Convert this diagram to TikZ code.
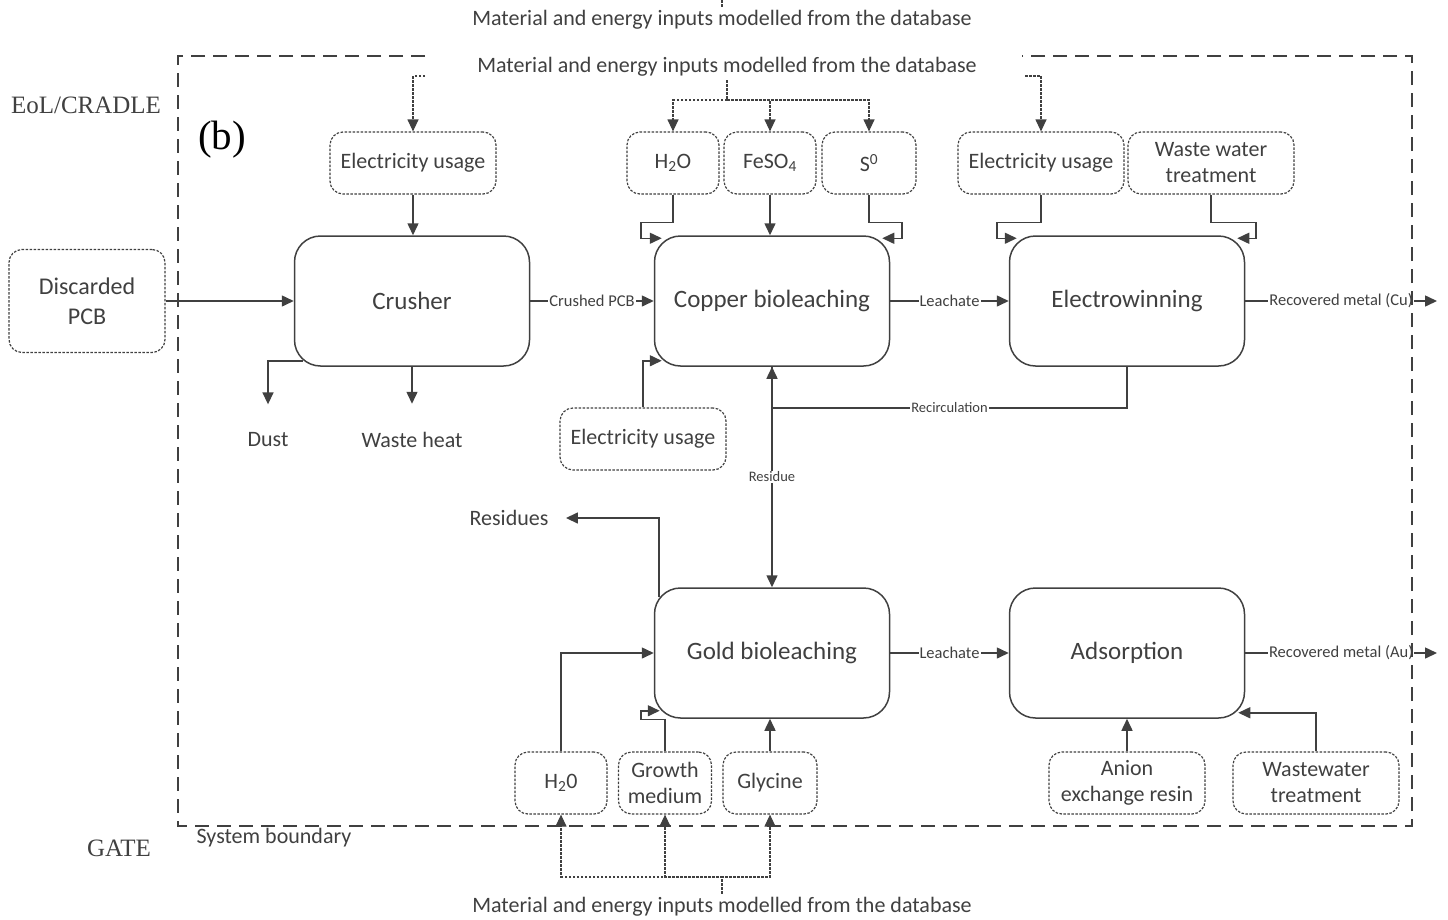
\documentclass[tikz,border=0pt]{standalone}
\usepackage{fontspec}
\setmainfont{Carlito}
\newfontfamily\serif{Liberation Serif}
\usetikzlibrary{arrows.meta}
\definecolor{ink}{HTML}{404040}

\begin{document}
\begin{tikzpicture}[x=1pt, y=-1pt, >={Triangle[length=12pt,width=11pt]},
    every node/.style={text=ink},
    proc/.style={draw=ink, line width=1.5pt, rounded corners=26pt, minimum width=235pt, minimum height=130pt, font=\fontsize{25}{30}\selectfont},
    inbox/.style={draw=ink, line width=1.2pt, dash pattern=on 2.5pt off 1.5pt, rounded corners=13pt, minimum height=62pt, align=center, font=\fontsize{22}{26}\selectfont},
    flow/.style={draw=ink, line width=1.5pt},
    feed/.style={draw=ink, line width=1.2pt, dash pattern=on 2.5pt off 1.5pt},
    lbl/.style={fill=white, inner sep=1pt, font=\fontsize{16.5}{18}\selectfont},
    slbl/.style={fill=white, inner sep=1pt, font=\fontsize{14.5}{16}\selectfont},
    txt/.style={font=\fontsize{22}{26}\selectfont},
    dbtxt/.style={font=\fontsize{22}{26}\selectfont}]
    \useasboundingbox (0,0) rectangle (1448,919);

    % Side labels
    \node[font=\serif\fontsize{25}{30}\selectfont] (cradle) at (86,105) {EoL/CRADLE};
    \node[font=\serif\fontsize{25}{30}\selectfont] (gate) at (119,848) {GATE};
    \node[font=\serif\fontsize{41}{48}\selectfont, text=black] (fig) at (222,140) {(b)};
    \node[txt] (sysb) at (274,838) {System boundary};

    % Processes
    \node[proc] (crusher) at (412,301) {Crusher};
    \node[proc] (cu) at (772,301) {Copper bioleaching};
    \node[proc] (ew) at (1127,301) {Electrowinning};
    \node[proc] (au) at (772,653) {Gold bioleaching};
    \node[proc] (ads) at (1127,653) {Adsorption};

    % Inputs
    \node[inbox, minimum width=156pt, minimum height=103pt, font=\fontsize{24}{30}\selectfont] (pcb) at (87,301) {Discarded\\PCB};
    \node[inbox, minimum width=166pt] (elecA) at (413,163) {Electricity usage};
    \node[inbox, minimum width=92pt] (h2oA) at (673,163) {H\textsubscript{2}O};
    \node[inbox, minimum width=92pt] (feso) at (770,163) {FeSO\textsubscript{4}};
    \node[inbox, minimum width=94pt] (sulf) at (869,163) {S\textsuperscript{0}};
    \node[inbox, minimum width=166pt] (elecB) at (1041,163) {Electricity usage};
    \node[inbox, minimum width=166pt] (wwtA) at (1211,163) {Waste water\\treatment};
    \node[inbox, minimum width=166pt] (elecC) at (643,439) {Electricity usage};
    \node[inbox, minimum width=92pt] (h2oB) at (561,783) {H\textsubscript{2}0};
    \node[inbox, minimum width=93pt] (growth) at (665,783) {Growth\\medium};
    \node[inbox, minimum width=94pt] (gly) at (770,783) {Glycine};
    \node[inbox, minimum width=156pt] (resin) at (1127,783) {Anion\\exchange resin};
    \node[inbox, minimum width=166pt] (wwtB) at (1316,783) {Wastewater\\treatment};

    % Outputs and database texts
    \node[txt] (dust) at (268,440) {Dust};
    \node[txt] (wheat) at (412,440) {Waste heat};
    \node[txt] (resid) at (509,518) {Residues};
    \node[dbtxt] (dbtop) at (722,20) {Material and energy inputs modelled from the database};
    \node[dbtxt] (dbmid) at (727,67) {Material and energy inputs modelled from the database};
    \node[dbtxt] (dbbot) at (722,907) {Material and energy inputs modelled from the database};
    \coordinate (cuOut) at (1437,301);
    \coordinate (auOut) at (1437,653);
    \coordinate (inA) at (425,76);
    \coordinate (inB) at (1025,76);

    % Main line
    \draw[flow, ->] (pcb) -- (crusher);
    \draw[flow, ->] (crusher) -- node[lbl] {Crushed PCB} (cu);
    \draw[flow, ->] (cu) -- node[lbl] {Leachate} (ew);
    \draw[flow, ->] (ew) -- node[lbl] {Recovered metal (Cu)} (cuOut);
    \draw[flow, ->] (au) -- node[lbl] {Leachate} (ads);
    \draw[flow, ->] (ads) -- node[lbl] {Recovered metal (Au)} (auOut);

    % Crusher
    \draw[flow, ->] (elecA.south) -- (elecA.south |- crusher.north);
    \draw[flow, ->] ([shift={(9,-6)}]crusher.south west) -| ([yshift=25pt]dust.north);
    \draw[flow, ->] (crusher.south) -- ([yshift=25pt]wheat.north);

    % Copper bioleaching and electrowinning
    \draw[flow, ->] (h2oA.south) |- ++(-32,28) |- ([shift={(8,3)}]cu.north west);
    \draw[flow, ->] (feso.south) -- (feso.south |- cu.north);
    \draw[flow, ->] (sulf.south) |- ++(33,28) |- ([shift={(-8,3)}]cu.north east);
    \draw[flow, ->] (elecC.north) |- ([shift={(8,-6)}]cu.south west);
    \draw[flow, ->] (elecB.south) |- ++(-44,28) |- ([shift={(8,3)}]ew.north west);
    \draw[flow, ->] (wwtA.south) |- ++(45,28) |- ([shift={(-8,3)}]ew.north east);
    \draw[flow, ->] (ew.south) -- ++(0,41) -| node[pos=0.25, slbl] {Recirculation} (cu.south);
    \draw[flow, ->] (cu.south) -- node[slbl] {Residue} (au.north);

    % Gold bioleaching and adsorption
    \draw[flow, ->] ([shift={(5,10)}]au.north west) |- ([xshift=14pt]resid.east);
    \draw[flow, ->] (h2oB.north) |- (au.west);
    \draw[flow, ->] (growth.north) |- ++(-24,-32) |- ([shift={(6,-8)}]au.south west);
    \draw[flow, ->] (gly.north) -- (gly.north |- au.south);
    \draw[flow, ->] (resin.north) -- (ads.south);
    \draw[flow, ->] (wwtB.north) |- ([shift={(-7,-6)}]ads.south east);

    % Database feeds
    \draw[feed] (dbtop.north) -- (dbtop.north |- 0,0);
    \draw[feed, ->] (inA) -| (elecA.north);
    \draw[feed, ->] (inB) -| (elecB.north);
    \draw[feed, ->] (dbmid.south) -- ++(0,20) -| (h2oA.north);
    \draw[feed, ->] (dbmid.south) -- ++(0,20) -| (sulf.north);
    \draw[feed, ->] (dbmid.south) ++(0,20) -| (feso.north);
    \draw[feed, ->] (dbbot.north) -- ++(0,-17) -| (h2oB.south);
    \draw[feed, ->] (dbbot.north) -- ++(0,-17) -| (gly.south);
    \draw[feed, ->] (dbbot.north) ++(0,-17) -| (growth.south);

    % System boundary
    \draw[ink, line width=1.3pt, dash pattern=on 14pt off 8pt] (425,56) -- (178,56) -- (178,826) -- (1412,826) -- (1412,56) -- (1022,56);
\end{tikzpicture}
\end{document}
